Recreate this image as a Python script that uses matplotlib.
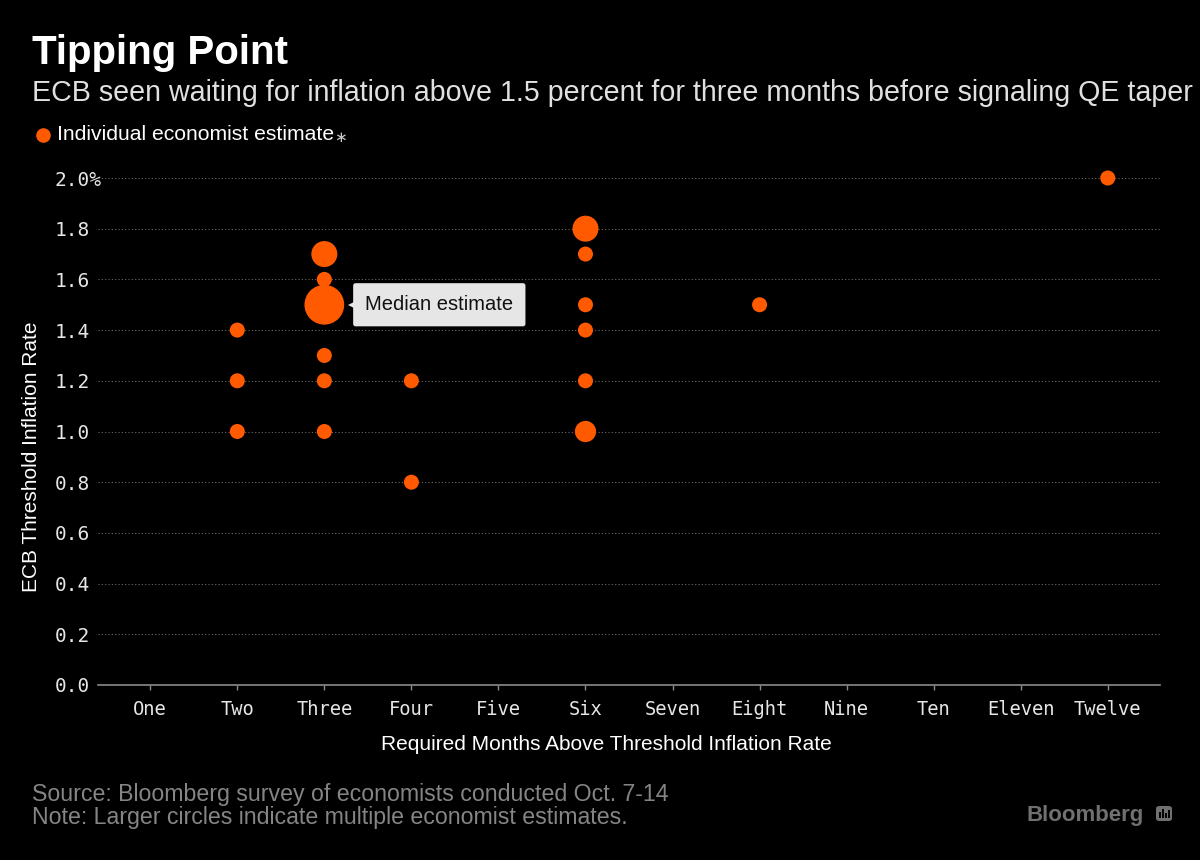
import numpy as np
import matplotlib
matplotlib.use("Agg")
import matplotlib.pyplot as plt
from matplotlib.lines import Line2D
from matplotlib.patches import FancyBboxPatch, Rectangle

# data (months, threshold %, number of estimates)
months = [2, 2, 2, 3, 3, 3, 3, 3, 3, 4, 4, 6, 6, 6, 6, 6, 6, 8, 12]
rates = [1.4, 1.2, 1.0, 1.7, 1.6, 1.5, 1.3, 1.2, 1.0, 1.2, 0.8,
         1.8, 1.7, 1.5, 1.4, 1.2, 1.0, 1.5, 2.0]
counts = [1, 1, 1, 3, 1, 7, 1, 1, 1, 1, 1, 3, 1, 1, 1, 1, 2, 1, 1]
month_names = ["One", "Two", "Three", "Four", "Five", "Six", "Seven",
               "Eight", "Nine", "Ten", "Eleven", "Twelve"]
y_ticks = [0.0, 0.2, 0.4, 0.6, 0.8, 1.0, 1.2, 1.4, 1.6, 1.8, 2.0]
y_labels = ["0.0", "0.2", "0.4", "0.6", "0.8", "1.0", "1.2", "1.4", "1.6", "1.8", "2.0%"]
median_month, median_rate = 3, 1.5

ORANGE = "#ff5a00"
BG = "black"
W, H = 1200, 860

def fx(px):
    return px / W

def fy(px):
    return 1 - px / H

fig = plt.figure(figsize=(12, 8.6), dpi=100, facecolor=BG)
ax = fig.add_axes([fx(98), fy(685), fx(1160) - fx(98), fy(178) - fy(685)])
ax.set_facecolor(BG)

ax.scatter(months, rates, s=[117 * c for c in counts], color=ORANGE,
           linewidths=0, zorder=3, clip_on=False)

ax.set_xlim(0.4, 12.6)
ax.set_ylim(0, 2.0)
ax.set_xticks(range(1, 13))
ax.set_xticklabels(month_names)
ax.set_yticks(y_ticks)
ax.set_yticklabels(y_labels)

for s in ["top", "right", "left"]:
    ax.spines[s].set_visible(False)
ax.spines["bottom"].set_color("#8a8a8a")
ax.spines["bottom"].set_linewidth(1.2)

mono = "DejaVu Sans Mono"
ax.tick_params(axis="x", colors="#8a8a8a", length=3.6, width=1, pad=7,
               labelcolor="#e6e6e6", labelsize=13.5)
ax.tick_params(axis="y", length=0, pad=31, labelcolor="#e6e6e6", labelsize=14)
for lab in ax.get_xticklabels() + ax.get_yticklabels():
    lab.set_fontfamily(mono)
for lab in ax.get_yticklabels():
    lab.set_horizontalalignment("left")

for yv in y_ticks[1:]:
    ax.axhline(yv, color="#6a6a6a", lw=0.8, ls=(0, (1, 2)), zorder=1)

# median call-out
ax.text(3.47, median_rate, "Median estimate", ha="left", va="center",
        fontsize=14.5, family="Liberation Sans", color="#111111", zorder=5,
        bbox=dict(boxstyle="round,pad=0.6,rounding_size=0.12", fc="#e6e6e6", ec="none"))
ax.plot([3.345], [median_rate], marker="<", ms=8, color="#e6e6e6", mew=0, zorder=4)

ax.set_xlabel("Required Months Above Threshold Inflation Rate", color="white",
              fontsize=15, family="Liberation Sans")
ax.xaxis.set_label_coords((606 - 98) / 1062, -(745 - 685) / 507)
ax.xaxis.label.set_va("center")
fig.text(fx(32), fy(457), "ECB Threshold Inflation Rate", rotation=90,
         ha="center", va="center", color="white", fontsize=15, family="Liberation Sans")

# header
fig.text(fx(32), fy(64), "Tipping Point", color="white", fontsize=29,
         fontweight="bold", family="Liberation Sans", va="baseline")
fig.text(fx(32), fy(101), "ECB seen waiting for inflation above 1.5 percent for three months before signaling QE taper",
         color="#e0e0e0", fontsize=20.6, family="Liberation Sans", va="baseline")
fig.add_artist(Line2D([fx(43)], [fy(135)], marker="o", ms=10.5, color=ORANGE,
                      mew=0, transform=fig.transFigure))
fig.text(fx(57), fy(135), "Individual economist estimate", color="white",
         fontsize=15.2, family="Liberation Sans", va="center")
fig.text(fx(334), fy(137), "\u2217", color="#cccccc", fontsize=11,
         family="DejaVu Sans", va="center")

# footer
fig.text(fx(32), fy(801), "Source: Bloomberg survey of economists conducted Oct. 7-14",
         color="#858585", fontsize=16.7, family="Liberation Sans", va="baseline")
fig.text(fx(32), fy(824), "Note: Larger circles indicate multiple economist estimates.",
         color="#858585", fontsize=16.7, family="Liberation Sans", va="baseline")
fig.text(fx(1026), fy(821), "Bloomberg", color="#707070", fontsize=16,
         fontweight="bold", family="Liberation Sans", va="baseline")
fig.add_artist(FancyBboxPatch((fx(1156), fy(821)), fx(16), fy(806) - fy(821),
                              boxstyle="round,pad=0,rounding_size=0.003",
                              fc="#707070", ec="none", transform=fig.transFigure))
for i, hgt in enumerate([6, 9, 5, 8]):
    fig.add_artist(Rectangle((fx(1159 + 3 * i), fy(818)), fx(1.6), fy(818 - hgt) - fy(818),
                             fc=BG, ec="none", transform=fig.transFigure))

fig.savefig("out.png", dpi=100, facecolor=BG)
